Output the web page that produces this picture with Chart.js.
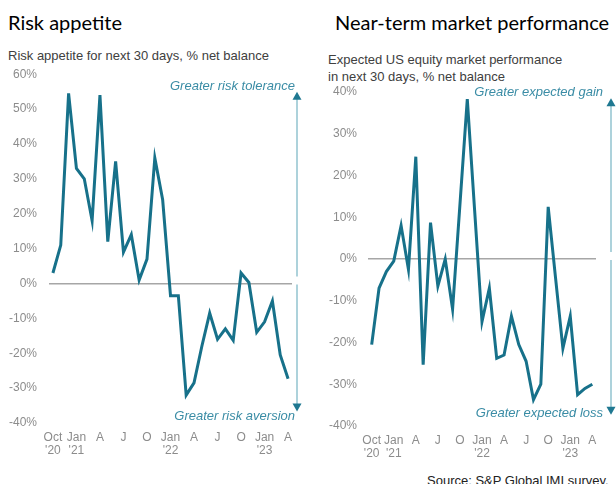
<!DOCTYPE html>
<html><head><meta charset="utf-8">
<script src="https://cdn.jsdelivr.net/npm/chart.js@4/dist/chart.umd.min.js"></script>
<style>
body{margin:0;width:616px;height:484px;background:#fff;position:relative;overflow:hidden;font-family:"Liberation Sans",Arial,sans-serif;}
.t{position:absolute;font-family:Lato,"Open Sans",sans-serif;font-size:20px;color:#000;white-space:nowrap;line-height:24px;}
.s{position:absolute;font-size:13px;color:#404040;line-height:17px;white-space:nowrap;}
.w{position:absolute;}
</style></head><body>
<div class="t" style="left:8px;top:10px">Risk appetite</div>
<div class="t" style="left:335px;top:10px">Near-term market performance</div>
<div class="s" style="left:8px;top:47px">Risk appetite for next 30 days, % net balance</div>
<div class="s" style="left:328px;top:51px">Expected US equity market performance<br>in next 30 days, % net balance</div>
<div class="w" style="left:0;top:55px;width:305px;height:405px"><canvas id="c1"></canvas></div>
<div class="w" style="left:310px;top:60px;width:306px;height:405px"><canvas id="c2"></canvas></div>
<div class="s" style="left:427px;top:472px;color:#222">Source: S&amp;P Global IMI survey.</div>
<script>
// Months Oct 2020 .. Apr 2023
const months = ['2020-10','2020-11','2020-12','2021-01','2021-02','2021-03','2021-04','2021-05','2021-06','2021-07','2021-08','2021-09','2021-10','2021-11','2021-12','2022-01','2022-02','2022-03','2022-04','2022-05','2022-06','2022-07','2022-08','2022-09','2022-10','2022-11','2022-12','2023-01','2023-02','2023-03','2023-04'];
const xTickLabels = [["Oct","'20"],'','',["Jan","'21"],'','','A','','','J','','','O','','',["Jan","'22"],'','','A','','','J','','','O','','',["Jan","'23"],'','','A'];
const riskAppetite = [3, 11, 54.5, 33, 30, 18, 54, 12, 35, 9, 14, 1, 7, 36, 24, -3.5, -3.5, -32, -28.5, -18, -8.5, -16, -13, -16.3, 3, 0.3, -14, -11, -5, -20.5, -27.3];
const marketPerf = [-20.5, -7, -3, -0.5, 8, -2.5, 24.5, -25.3, 8.7, -6.5, 0, -12, 13, 38.3, 11.6, -15, -7, -23.8, -23, -13.7, -20.5, -24.5, -33.7, -30, 12.5, -4.5, -21.4, -13.7, -32.5, -31, -30];
const leftNotes = ['Greater risk tolerance', 'Greater risk aversion'];
const rightNotes = ['Greater expected gain', 'Greater expected loss'];

const LINE = '#17718a';
const TICK = '#8c8c8c';

function arrowPlugin(cfg){
  return {id:'arr', afterDraw(chart){
    const {ctx, chartArea:a, scales:{y}} = chart;
    const x = a.right + cfg.dx;
    const top = y.getPixelForValue(cfg.top), bot = y.getPixelForValue(cfg.bot), z = y.getPixelForValue(0);
    ctx.save();
    ctx.strokeStyle = '#93c3d0'; ctx.lineWidth = 1.5;
    ctx.beginPath();
    ctx.moveTo(x, top + 6); ctx.lineTo(x, z - 7);
    ctx.moveTo(x, z + 1); ctx.lineTo(x, bot - 6);
    ctx.stroke();
    ctx.fillStyle = '#1f7891';
    ctx.beginPath(); ctx.moveTo(x, top); ctx.lineTo(x-4.5, top+8); ctx.lineTo(x+4.5, top+8); ctx.closePath(); ctx.fill();
    ctx.beginPath(); ctx.moveTo(x, bot); ctx.lineTo(x-4.5, bot-8); ctx.lineTo(x+4.5, bot-8); ctx.closePath(); ctx.fill();
    ctx.fillStyle = '#3a8ca5';
    ctx.font = 'italic 13px "Liberation Sans", Arial, sans-serif';
    ctx.textAlign = 'right'; ctx.textBaseline = 'middle';
    ctx.fillText(cfg.notes[0], a.right + cfg.tx, y.getPixelForValue(cfg.ntop));
    ctx.fillText(cfg.notes[1], a.right + cfg.tx, y.getPixelForValue(cfg.nbot));
    ctx.restore();
  }};
}

function makeChart(id, values, yMin, yMax, yW, xH, tickPad, xPad, pad, arr){
  return new Chart(document.getElementById(id), {
    type:'line',
    data:{labels:months, datasets:[{data:values, borderColor:LINE, borderWidth:3, pointRadius:0, tension:0, fill:false, borderJoinStyle:'miter'}]},
    options:{
      responsive:true, maintainAspectRatio:false, animation:false,
      layout:{padding:pad},
      plugins:{legend:{display:false}, tooltip:{enabled:false}, title:{display:false}},
      scales:{
        x:{offset:true, afterFit:s=>{s.height=xH;}, grid:{display:false}, border:{display:false},
           ticks:{autoSkip:false, maxRotation:0, minRotation:0, padding:xPad, color:TICK, font:{family:'"Liberation Sans", Arial, sans-serif', size:12, lineHeight:1.1}, callback:(v,i)=>xTickLabels[i]}},
        y:{min:yMin, max:yMax, afterFit:s=>{s.width=yW;}, border:{display:false},
           grid:{drawTicks:false, lineWidth:1.5, color:c=>c.tick && c.tick.value===0 ? '#a6a6a6' : 'rgba(0,0,0,0)'},
           ticks:{stepSize:10, padding:tickPad, color:TICK, font:{family:'"Liberation Sans", Arial, sans-serif', size:12}, callback:v=>v+'%'}}
      }
    },
    plugins:[arrowPlugin(arr)]
  });
}

makeChart('c1', riskAppetite, -40, 60, 41, 37, 12, 0, {left:8, right:13, top:8, bottom:0},
  {dx:5, top:55, bot:-36.7, tx:3, ntop:56.5, nbot:-38.2, notes:leftNotes});
makeChart('c2', marketPerf, -40, 40, 58, 39, 11, 0, {left:0, right:20, top:32, bottom:0},
  {dx:15, top:38.5, bot:-37.3, tx:7, ntop:39.8, nbot:-36.9, notes:rightNotes});
</script>
</body></html>
